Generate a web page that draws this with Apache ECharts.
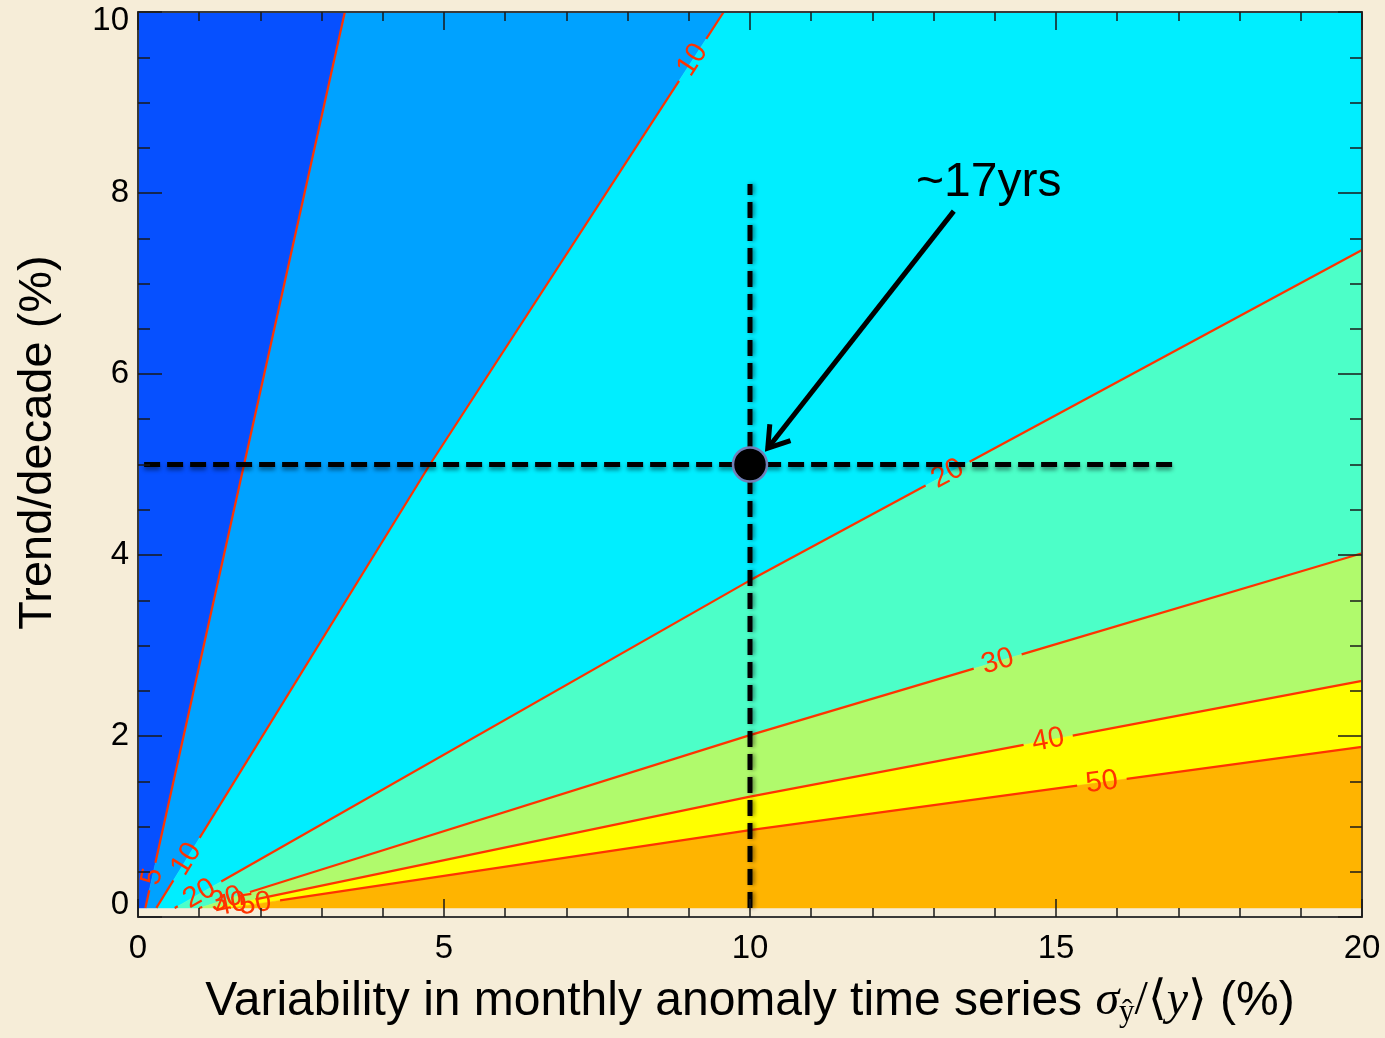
<!DOCTYPE html>
<html>
<head>
<meta charset="utf-8">
<title>Years needed to detect a trend</title>
<script src="https://cdn.jsdelivr.net/npm/echarts@6/dist/echarts.min.js"></script>
<style>
  html, body { margin: 0; padding: 0; background: #F6EDD8; }
  #chart { width: 1385px; height: 1038px; }
</style>
</head>
<body>
<div id="chart"></div>
<script>
// contour levels = years of data needed to detect the trend
const contourLevels = [5, 10, 20, 30, 40, 50];

// contours, points are [variability %, trend/decade %]
const contour5 = [[0.12, 0.1], [3.38, 10]];
const contour10 = [[0.3, 0.1], [4.77, 5], [9.57, 10]];
const contour20 = [[0.6, 0.1], [10, 3.72], [20, 7.37]];
const contour30 = [[1.0, 0.1], [10, 2.01], [20, 4.02]];
const contour40 = [[1.25, 0.1], [10, 1.33], [20, 2.61]];
const contour50 = [[1.5, 0.1], [10, 0.96], [20, 1.88]];
const contourPaths = [contour5, contour10, contour20, contour30, contour40, contour50];

// where the contour labels sit: [contour index, x, y]
const contourLabels = [
  [0, 0.15, 0.46],
  [1, 0.6, 0.72],
  [2, 0.9, 0.38],
  [3, 1.39, 0.3],
  [4, 1.5, 0.2],
  [5, 1.9, 0.22],
  [1, 9.02, 9.49],
  [2, 13.22, 4.91],
  [3, 14.04, 2.84],
  [4, 14.87, 1.96],
  [5, 15.75, 1.49]
];

// fill colours, from the <5 yr band down to the >50 yr band
const bandColors = ['#0650FF', '#00A2FF', '#00EEFF', '#4CFFC8', '#B0FA6C', '#FFFF00', '#FFB400'];

// the worked example
const crossH = [[0.1, 5], [17, 5]];
const crossV = [[10, 0.1], [10, 8.1]];
const examplePoint = [10, 5];
const arrowTail = [13.33, 7.8];
const arrowTip = [10.29, 5.18];
const noteText = '~17yrs';
const notePos = [13.9, 8.11];

const xMax = 20, yMax = 10, yFloor = 0.1;
const sans = '"Liberation Sans", Arial, Helvetica, sans-serif';
const serif = '"Liberation Serif", "DejaVu Serif", "Times New Roman", serif';
const red = '#FF3300';

// position along the frame, clockwise from the top-left corner
function perim(p) {
  return p[1] >= yMax - 1e-9 ? p[0] : xMax + (yMax - p[1]);
}

function bandPolygon(i) {
  const upper = i === 0 ? [[0, yFloor], [0, yMax]] : contourPaths[i - 1];
  const lower = i === contourPaths.length ? [[xMax, yFloor]] : contourPaths[i];
  const pts = lower.slice();
  const tLow = perim(lower[lower.length - 1]);
  const tUp = perim(upper[upper.length - 1]);
  if (tUp < xMax && tLow > xMax) pts.push([xMax, yMax]);
  return pts.concat(upper.slice().reverse());
}

// nearest point on a pixel polyline + local direction
function project(pts, c) {
  let best = null;
  for (let k = 0; k < pts.length - 1; k++) {
    const a = pts[k], b = pts[k + 1];
    const dx = b[0] - a[0], dy = b[1] - a[1];
    let t = ((c[0] - a[0]) * dx + (c[1] - a[1]) * dy) / (dx * dx + dy * dy);
    t = Math.max(0, Math.min(1, t));
    const p = [a[0] + dx * t, a[1] + dy * t];
    const d = Math.hypot(p[0] - c[0], p[1] - c[1]);
    if (!best || d < best.d) best = { d, p, dx, dy };
  }
  return best;
}

// split a pixel polyline into pieces that stay out of the label holes
function cutSegments(pts, holes) {
  const out = [];
  for (let k = 0; k < pts.length - 1; k++) {
    const a = pts[k], b = pts[k + 1];
    const dx = b[0] - a[0], dy = b[1] - a[1];
    let keep = [[0, 1]];
    holes.forEach(([cx, cy, r]) => {
      const fx = a[0] - cx, fy = a[1] - cy;
      const A = dx * dx + dy * dy, B = 2 * (fx * dx + fy * dy), C = fx * fx + fy * fy - r * r;
      const disc = B * B - 4 * A * C;
      if (disc <= 0) return;
      const s = Math.sqrt(disc);
      const t1 = (-B - s) / (2 * A), t2 = (-B + s) / (2 * A);
      const next = [];
      keep.forEach(([u, v]) => {
        if (t2 <= u || t1 >= v) { next.push([u, v]); return; }
        if (t1 > u) next.push([u, t1]);
        if (t2 < v) next.push([t2, v]);
      });
      keep = next;
    });
    keep.forEach(([u, v]) => out.push([a[0] + dx * u, a[1] + dy * u, a[0] + dx * v, a[1] + dy * v]));
  }
  return out;
}

const chart = echarts.init(document.getElementById('chart'));

const tickStyle = { color: '#1a1a1a', width: 1.5 };
const frameStyle = { color: '#3a3a3a', width: 2 };

function xAxisBase(pos) {
  return {
    type: 'value', min: 0, max: xMax, interval: 5, position: pos, z: 10,
    axisLine: { show: true, onZero: false, lineStyle: frameStyle },
    axisTick: { show: true, inside: true, length: 18, lineStyle: tickStyle },
    minorTick: { show: true, splitNumber: 5, length: 9, lineStyle: tickStyle },
    splitLine: { show: false },
    minorSplitLine: { show: false }
  };
}
function yAxisBase(pos) {
  return {
    type: 'value', min: 0, max: yMax, interval: 2, position: pos, z: 10,
    axisLine: { show: true, onZero: false, lineStyle: frameStyle },
    axisTick: { show: true, inside: true, length: 24, lineStyle: tickStyle },
    minorTick: { show: true, splitNumber: 4, length: 12, lineStyle: tickStyle },
    splitLine: { show: false },
    minorSplitLine: { show: false }
  };
}

const option = {
  backgroundColor: '#F6EDD8',
  animation: false,
  grid: { left: 138, right: 23, top: 12, bottom: 121, containLabel: false, outerBoundsMode: 'none' },
  xAxis: [
    Object.assign(xAxisBase('bottom'), {
      axisLabel: { color: '#000', fontSize: 33, fontFamily: sans, margin: 15 },
      name: 'Variability in monthly anomaly time series {sig|σ}{sub|ŷ}{m|/⟨}{it|y}{m|⟩} (%)',
      nameLocation: 'middle',
      nameGap: 58,
      nameTextStyle: {
        color: '#000', fontSize: 48, fontFamily: sans,
        rich: {
          sig: { color: '#000', fontSize: 48, fontFamily: serif, fontStyle: 'italic' },
          sub: { color: '#000', fontSize: 31, fontFamily: serif, padding: [22, 0, 0, 0] },
          m: { color: '#000', fontSize: 48, fontFamily: serif },
          it: { color: '#000', fontSize: 48, fontFamily: serif, fontStyle: 'italic' }
        }
      }
    }),
    Object.assign(xAxisBase('top'), { axisLabel: { show: false } })
  ],
  yAxis: [
    Object.assign(yAxisBase('left'), {
      axisLabel: {
        color: '#000', fontSize: 33, fontFamily: sans, margin: 9,
        formatter: v => v === 0 ? '{lo|0}' : (v === yMax ? '{hi|10}' : String(v)),
        rich: {
          lo: { color: '#000', fontSize: 33, fontFamily: sans, padding: [0, 0, 24, 0] },
          hi: { color: '#000', fontSize: 33, fontFamily: sans, padding: [18, 0, 0, 0] }
        }
      },
      name: 'Trend/decade (%)',
      nameLocation: 'middle',
      nameRotate: 90,
      nameGap: 76,
      nameTextStyle: { color: '#000', fontSize: 47, fontFamily: sans, padding: [0, 0, 0, 44] }
    }),
    Object.assign(yAxisBase('right'), { axisLabel: { show: false } })
  ],
  series: [
    {
      // filled bands between contours
      type: 'custom',
      silent: true,
      z: 1,
      data: bandColors.map((c, i) => [i, 0]),
      renderItem: (params, api) => ({
        type: 'polygon',
        shape: { points: bandPolygon(params.dataIndex).map(p => api.coord(p)) },
        style: { fill: bandColors[params.dataIndex], stroke: bandColors[params.dataIndex], lineWidth: 0.5 }
      })
    },
    {
      // contour lines with inline labels
      type: 'custom',
      silent: true,
      z: 2,
      data: contourLevels.map((lvl, i) => [i, lvl]),
      renderItem: (params, api) => {
        const i = params.dataIndex;
        const pix = contourPaths[i].map(p => api.coord(p));
        const txt = String(contourLevels[i]);
        const holes = [];
        const texts = [];
        contourLabels.filter(l => l[0] === i).forEach(l => {
          const pr = project(pix, api.coord([l[1], l[2]]));
          const r = txt.length > 1 ? 25 : 14;
          holes.push([pr.p[0], pr.p[1], r]);
          texts.push({
            type: 'text',
            x: pr.p[0], y: pr.p[1],
            rotation: Math.atan2(-pr.dy, pr.dx),
            style: {
              text: txt, fill: red, fontSize: 29, fontFamily: sans,
              align: 'center', verticalAlign: 'middle'
            }
          });
        });
        const lines = cutSegments(pix, holes).map(s => ({
          type: 'line',
          shape: { x1: s[0], y1: s[1], x2: s[2], y2: s[3] },
          style: { stroke: red, lineWidth: 2.2 }
        }));
        return { type: 'group', children: lines.concat(texts) };
      }
    },
    {
      type: 'line',
      data: crossH,
      showSymbol: false,
      silent: true,
      z: 3,
      lineStyle: {
        color: '#000', width: 5, type: [16, 7],
        shadowColor: 'rgba(0,0,0,0.45)', shadowBlur: 4, shadowOffsetY: 3
      }
    },
    {
      type: 'line',
      data: crossV,
      showSymbol: false,
      silent: true,
      z: 3,
      lineStyle: {
        color: '#000', width: 5, type: [16, 7],
        shadowColor: 'rgba(0,0,0,0.45)', shadowBlur: 4, shadowOffsetX: 2
      }
    },
    {
      // arrow + note
      type: 'custom',
      silent: true,
      z: 4,
      data: [[arrowTip[0], arrowTip[1]]],
      renderItem: (params, api) => {
        const a = api.coord(arrowTail);
        const b = api.coord(arrowTip);
        const ang = Math.atan2(a[1] - b[1], a[0] - b[0]);
        const head = 24, spread = 0.58;
        const h1 = [b[0] + head * Math.cos(ang + spread), b[1] + head * Math.sin(ang + spread)];
        const h2 = [b[0] + head * Math.cos(ang - spread), b[1] + head * Math.sin(ang - spread)];
        const t = api.coord(notePos);
        return {
          type: 'group',
          children: [
            { type: 'line', shape: { x1: a[0], y1: a[1], x2: b[0], y2: b[1] },
              style: { stroke: '#000', lineWidth: 5 } },
            { type: 'polyline', shape: { points: [h1, b, h2] },
              style: { stroke: '#000', lineWidth: 5, fill: null, lineJoin: 'miter' } },
            { type: 'text', x: t[0], y: t[1],
              style: { text: noteText, fill: '#000', fontSize: 48, fontFamily: sans,
                       align: 'center', verticalAlign: 'middle' } }
          ]
        };
      }
    },
    {
      type: 'scatter',
      data: [examplePoint],
      symbol: 'circle',
      symbolSize: 34,
      silent: true,
      z: 5,
      itemStyle: { color: '#000', borderColor: '#7080B8', borderWidth: 2.5, opacity: 1 }
    }
  ]
};

chart.setOption(option);
</script>
</body>
</html>
